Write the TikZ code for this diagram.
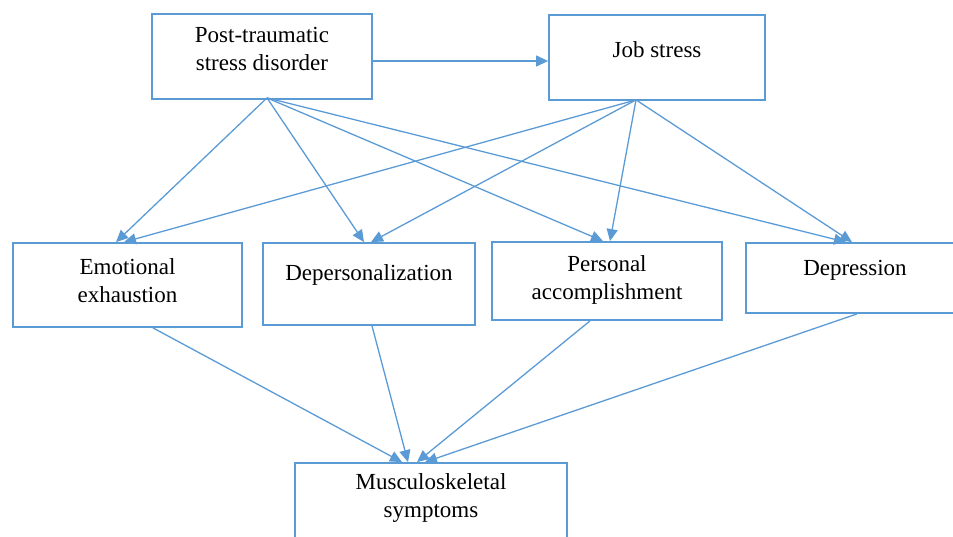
\documentclass[tikz,border=0pt]{standalone}
\usepackage{fontspec}
\setmainfont{Liberation Serif}
\usetikzlibrary{arrows.meta}
\definecolor{lineblue}{RGB}{91,155,213}
\begin{document}
\begin{tikzpicture}[x=1pt,y=-1pt,
  box/.style={draw=lineblue,line width=1.8pt,inner sep=0pt,fill=none},
  lbl/.style={align=center,inner sep=0pt,font=\fontsize{23}{28}\selectfont},
  conn/.style={draw=lineblue,line width=1.3pt,-{Triangle[length=12pt,width=11pt]}}]
\useasboundingbox (0,0) rectangle (953,537);
\clip (0,0) rectangle (953,537);
% boxes
\node[box,minimum width=220pt,minimum height=85pt] (ptsd) at (262,56.5) {};
\node[box,minimum width=216pt,minimum height=85pt] (job) at (657,57.5) {};
\node[box,minimum width=229pt,minimum height=84pt] (ee) at (127.5,285) {};
\node[box,minimum width=212pt,minimum height=82pt] (dep) at (369,284) {};
\node[box,minimum width=230pt,minimum height=78pt] (pa) at (607,281) {};
\node[box,minimum width=218pt,minimum height=70pt] (depr) at (855,278) {};
\node[box,minimum width=272pt,minimum height=82pt] (ms) at (431,504) {};
% labels
\node[lbl] (ptsdT) at (262,49) {Post-traumatic\\stress disorder};
\node[lbl] (jobT) at (657,50) {Job stress};
\node[lbl] (eeT) at (127.5,281) {Emotional\\exhaustion};
\node[lbl] (depT) at (369,275) {Depersonalization};
\node[lbl] (paT) at (607,280) {Personal\\accomplishment};
\node[lbl] (deprT) at (855,270) {Depression};
\node[lbl] (msT) at (431,498) {Musculoskeletal\\symptoms};
% connectors
\draw[conn] ([yshift=-4.5pt]ptsd.east) -- ([yshift=-3.5pt]job.west);
\draw[conn] ([xshift=5pt,yshift=2pt]ptsd.south) -- ([xshift=-11.5pt]ee.north);
\draw[conn] ([xshift=5pt,yshift=2pt]ptsd.south) -- ([xshift=-5pt]dep.north);
\draw[conn] ([xshift=5pt,yshift=2pt]ptsd.south) -- ([xshift=-4pt]pa.north);
\draw[conn] ([xshift=5pt,yshift=2pt]ptsd.south) -- ([xshift=-9pt]depr.north);
\draw[conn] ([xshift=-21pt,yshift=1pt]job.south) -- ([xshift=-3.5pt]ee.north);
\draw[conn] ([xshift=-21pt,yshift=1pt]job.south) -- ([xshift=2pt]dep.north);
\draw[conn] ([xshift=-21pt,yshift=1pt]job.south) -- ([xshift=3pt]pa.north);
\draw[conn] ([xshift=-21pt,yshift=1pt]job.south) -- ([xshift=-3pt]depr.north);
\draw[conn] ([xshift=25.5pt]ee.south) -- ([xshift=-29pt]ms.north);
\draw[conn] ([xshift=3pt]dep.south) -- ([xshift=-23pt]ms.north);
\draw[conn] ([xshift=-17pt]pa.south) -- ([xshift=-14pt]ms.north);
\draw[conn] ([xshift=2pt]depr.south) -- ([xshift=-6pt]ms.north);
\end{tikzpicture}
\end{document}
